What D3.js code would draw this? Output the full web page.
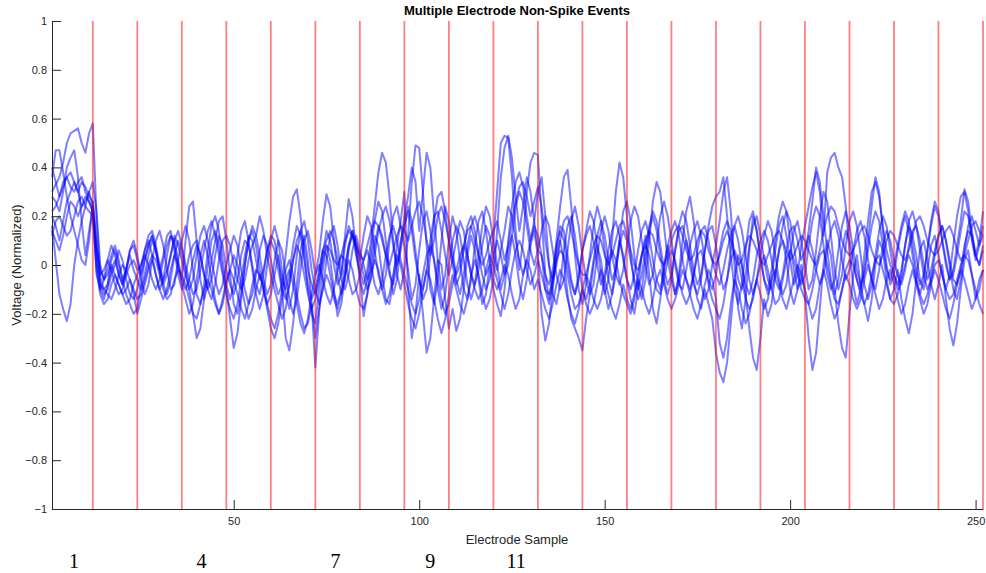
<!DOCTYPE html>
<html>
<head>
<meta charset="utf-8">
<script src="https://cdn.jsdelivr.net/npm/d3@7"></script>
<style>
  body { margin: 0; background: #fff; }
  svg { display: block; font-family: "Liberation Sans", Arial, sans-serif; }
</style>
</head>
<body>
<svg id="chart" width="986" height="573"></svg>
<script>
// electrode boundaries (every 12 samples)
var boundaries = [12, 24, 36, 48, 60, 72, 84, 96, 108, 120, 132, 144, 156, 168, 180, 192, 204, 216, 228, 240, 252];
var xTicks = [50, 100, 150, 200, 250];
var yTicks = [-1, -0.8, -0.6, -0.4, -0.2, 0, 0.2, 0.4, 0.6, 0.8, 1];
var bottomLabels = ["1", "4", "7", "9", "11"];
var bottomLabelX = [6.9, 41.3, 77.4, 103, 126.1]; // in sample units

// non-spike events, one row of 12 per electrode
var event1 = [
  .30,.33,.36,.42,.50,.54,.55,.56,.50,.46,.54,.58,
  .20,-.05,-.10,-.08,-.02,.02,-.04,-.08,-.02,.04,-.02,-.06,
  -.10,-.04,.04,.10,.06,-.02,-.08,-.04,.04,.12,.08,.02,
  -.04,-.10,-.06,.04,.12,.16,.10,.02,-.06,-.12,-.08,.00,
  .06,.12,.08,-.02,-.10,-.16,-.12,-.04,.06,.12,.08,.02,
  -.06,-.12,-.08,.04,.18,.28,.31,.20,.04,-.10,-.20,-.24,
  -.10,.04,.14,.10,.00,-.08,-.04,.08,.16,.12,.04,-.02,
  -.08,-.02,.10,.24,.38,.46,.42,.28,.10,-.04,-.10,-.02,
  .12,.34,.49,.48,.30,.08,-.10,-.16,-.06,.10,.24,.18,
  .06,-.06,-.12,-.04,.08,.16,.20,.14,.04,-.04,.00,.10,
  .30,.50,.53,.52,.36,.14,-.02,.10,.30,.42,.46,.45,
  .20,-.04,-.14,-.06,.10,.24,.36,.39,.24,.04,-.10,-.16,
  -.08,.04,.16,.24,.18,.06,-.06,-.12,-.04,.10,.22,.26,
  .18,.04,-.08,-.14,-.06,.10,.26,.34,.30,.16,.02,-.06,
  -.12,-.04,.10,.22,.28,.18,.04,-.08,-.14,-.10,.00,.08,
  .18,.30,.36,.22,.00,-.18,-.26,-.14,.06,.20,.14,.02,
  -.06,-.12,-.06,.06,.16,.20,.12,.02,-.08,-.04,.08,.16,
  .24,.32,.38,.30,.12,.38,.44,.46,.40,.36,.24,.06,
  -.08,-.16,-.10,.04,.18,.30,.34,.28,.16,.06,.00,-.04,
  -.08,-.02,.08,.16,.12,.04,-.06,-.10,-.02,.08,.12,.04,
  -.04,-.10,-.04,.08,.20,.28,.30,.22,.10,.02,.08,.16
];
var event2 = [
  .36,.47,.47,.38,.28,.20,.14,.08,.02,.00,.10,.26,
  .10,-.08,-.12,-.10,-.04,.00,.06,.02,-.06,-.12,-.14,-.10,
  -.02,.06,.10,.04,-.04,-.10,-.06,.04,.12,.10,.02,-.06,
  .10,.24,.26,.10,-.06,-.14,-.08,.02,.10,.18,.20,.10,
  -.04,-.16,-.20,-.12,.00,.10,.16,.12,.04,-.06,-.12,-.08,
  .02,.10,.06,-.04,-.14,-.20,-.14,-.02,.10,.14,.06,-.04,
  .04,.18,.29,.24,.10,-.04,-.12,-.06,.06,.14,.10,.02,
  .12,.20,.16,.06,-.04,-.10,-.04,.10,.20,.24,.16,.08,
  -.02,-.14,-.08,.06,.18,.22,.14,.02,-.10,-.18,-.12,.00,
  .10,.16,.12,.02,-.08,-.14,-.08,.04,.16,.24,.20,.10,
  .00,-.10,-.04,.10,.24,.34,.38,.32,.20,.10,.18,.30,
  .36,.20,.00,-.12,-.16,-.08,.06,.16,.20,.12,.00,-.10,
  -.14,-.08,.02,.12,.18,.12,.02,-.06,-.02,.08,.14,.10,
  .02,-.06,-.10,-.04,.06,.16,.22,.18,.08,-.02,-.08,-.04,
  .06,.16,.22,.18,.08,-.02,-.08,-.04,.06,.14,.16,.08,
  -.02,-.10,-.06,.06,.16,.20,.14,.04,-.06,-.12,-.06,.04,
  .12,.18,.14,.04,-.06,-.12,-.08,.04,.14,.18,.10,.00,
  -.10,-.06,.06,.20,.30,.26,.12,-.02,-.10,-.04,.08,.18,
  .22,.16,.04,-.08,-.14,-.08,.04,.14,.20,.16,.06,-.04,
  -.10,-.04,.08,.18,.22,.16,.06,-.04,-.10,-.06,.04,.12,
  .16,.10,.00,-.10,-.14,-.06,.06,.16,.20,.14,.08,.12
];
var event3 = [
  .16,.02,-.12,-.18,-.23,-.16,.00,.10,.18,.24,.30,.34,
  .22,.00,-.06,-.02,.04,.08,.02,-.06,-.12,-.16,-.20,-.18,
  -.08,.02,.08,.12,.06,-.02,-.08,-.12,-.06,.04,.10,.06,
  -.02,-.10,-.20,-.30,-.26,-.14,.00,.10,.14,.08,-.02,-.10,
  -.22,-.34,-.28,-.14,.00,.10,.14,.08,-.02,-.10,-.16,-.12,
  -.04,.04,-.10,-.30,-.35,-.24,-.08,.06,.12,.02,-.16,-.42,
  -.20,-.02,.08,.02,-.10,-.21,-.16,-.04,.08,.14,.06,-.04,
  -.21,-.12,.02,.12,.08,-.04,-.14,-.16,-.06,.08,.18,.30,
  -.10,-.30,-.20,-.04,-.20,-.36,-.30,-.14,.02,.00,-.14,-.26,
  -.18,-.27,-.22,-.10,.04,.12,.06,-.06,-.16,-.12,.00,-.10,
  -.16,-.21,-.10,.06,.12,.04,-.08,-.14,-.06,.08,.14,.04,
  -.20,-.31,-.24,-.10,.04,.10,.02,-.12,-.22,-.26,-.30,-.35,
  -.22,-.12,.00,.08,.02,-.10,-.18,-.12,.00,.10,.04,-.06,
  -.14,-.20,-.10,.04,.12,-.04,-.18,-.24,-.14,.00,.08,-.02,
  -.12,-.06,.04,.10,.04,-.06,-.14,-.18,-.10,-.16,-.22,-.36,
  -.44,-.48,-.40,-.24,-.06,.04,.00,-.12,-.26,-.38,-.43,-.30,
  -.14,-.21,-.16,-.04,.06,.10,.02,-.10,-.16,-.10,.00,-.12,
  -.30,-.43,-.36,-.18,.00,.10,.04,-.10,-.24,-.34,-.38,-.20,
  -.04,.04,-.08,-.16,-.23,-.14,.00,.10,.06,-.06,-.14,-.10,
  -.02,-.14,-.22,-.28,-.20,-.06,.06,.10,.02,-.08,-.14,-.08,
  .00,-.14,-.26,-.33,-.24,-.10,.02,.06,-.04,-.14,-.10,-.02
];
var event4 = [
  .28,.26,.22,.30,.40,.44,.47,.36,.18,.04,.14,.24,
  .04,-.10,-.14,-.08,.02,.06,.00,-.06,-.02,.06,.10,.04,
  -.06,-.12,-.08,.02,.10,.14,.08,-.02,-.10,-.08,.02,.10,
  .16,.10,-.02,-.12,-.16,-.08,.06,.16,.20,.14,.02,-.08,
  -.14,-.08,.04,.14,.18,.10,-.02,-.12,-.18,-.12,.00,.10,
  .16,.10,-.02,-.12,-.18,-.10,.04,.14,.18,.10,-.02,-.10,
  -.16,-.10,.02,.12,.16,.08,-.04,.12,.27,.20,.06,-.06,
  -.12,-.06,.06,.18,.26,.22,.10,-.02,-.12,-.06,.08,.20,
  .28,.40,.34,.14,.30,.46,.40,.20,.02,-.10,-.04,.10,
  .20,.14,.02,-.10,-.14,-.06,.08,.18,.22,.14,.02,-.06,
  .14,.36,.48,.53,.44,.28,.14,.24,.36,.30,.18,.06,
  .04,-.10,-.16,-.08,.06,.16,.14,.04,-.06,-.12,-.06,.06,
  .14,.22,.18,.08,-.04,-.12,-.06,.10,.30,.42,.36,.20,
  .04,-.08,-.14,-.10,.02,.14,.20,.14,.04,-.06,-.12,-.06,
  .06,.14,.16,.10,.00,-.08,-.12,-.06,.06,.16,.24,.28,
  .30,.36,.20,.04,-.10,-.16,-.08,.06,.18,.22,.14,.04,
  -.06,-.10,-.02,.10,.20,.26,.22,.10,-.02,-.10,-.06,.04,
  .14,.26,.40,.34,.20,.06,-.06,-.12,-.06,.06,.14,.10,
  .02,-.06,-.10,-.02,.10,.24,.36,.30,.14,.00,-.08,-.04,
  .06,.14,.20,.14,.04,-.06,-.12,-.06,.06,.18,.26,.22,
  .10,.00,-.06,-.02,.08,.18,.31,.26,.14,.04,.10,.22
];
var event5 = [
  .22,.24,.28,.34,.36,.32,.30,.34,.36,.30,.26,.22,
  .06,-.04,-.02,.02,-.02,-.08,-.12,-.10,-.04,.00,.02,-.02,
  .00,.04,.00,-.06,-.10,-.06,.02,.08,.12,.08,.00,-.06,
  -.10,-.06,.02,.08,.04,-.04,-.10,-.14,-.08,.02,.10,.12,
  .08,.00,-.06,-.10,-.06,.02,.08,.12,.20,.14,.04,-.04,
  -.10,-.16,-.22,-.18,-.08,.02,.08,.04,-.04,-.12,-.18,-.14,
  -.06,.02,.08,.06,.02,.00,.04,.10,.14,.12,.08,.04,
  .02,.08,.14,.18,.16,.10,.04,.00,.06,.12,.16,.14,
  .10,.16,.22,.26,.20,.10,.04,.10,.20,.24,.18,.10,
  .02,-.04,.00,.08,.14,.16,.10,.04,.00,.04,.10,.14,
  .18,.10,.02,.08,.18,.26,.32,.34,.28,.20,.26,.32,
  .24,.10,.00,-.06,.00,.10,.18,.20,.14,.06,.00,-.04,
  -.04,.02,.08,.12,.10,.04,.00,.04,.10,.16,.18,.12,
  .06,.00,-.02,.04,.10,.14,.12,.06,.02,.00,.04,.10,
  .14,.16,.12,.06,.02,.04,.10,.14,.12,.06,.02,.00,
  .04,.10,.14,.10,.04,.00,.02,.08,.12,.10,.06,.02,
  .00,.04,.08,.12,.14,.10,.06,.02,.04,.08,.12,.10,
  .06,.02,.00,.06,.14,.20,.24,.22,.16,.10,.06,.04,
  .06,.10,.14,.16,.12,.06,.02,.00,.04,.10,.14,.12,
  .08,.04,.02,.06,.12,.18,.20,.16,.10,.06,.04,.06,
  .10,.14,.16,.12,.06,.02,.04,.10,.16,.18,.14,.12
];
var event6 = [
  .12,.18,.20,.16,.12,.14,.20,.26,.28,.24,.22,.20,
  .00,-.08,-.10,-.12,-.14,-.10,-.04,.00,-.02,-.06,-.10,-.14,
  -.12,-.06,.00,.04,.02,-.04,-.10,-.14,-.12,-.06,-.02,-.04,
  -.08,-.14,-.20,-.22,-.16,-.10,-.06,-.10,-.16,-.20,-.14,-.06,
  -.02,-.06,-.12,-.18,-.22,-.16,-.08,-.02,-.04,-.10,-.18,-.26,
  -.30,-.24,-.14,-.06,-.02,-.08,-.16,-.24,-.28,-.22,-.12,-.04,
  .00,-.06,-.12,-.16,-.10,-.02,.04,.02,-.06,-.12,-.10,-.04,
  .02,.06,.00,-.08,-.12,-.06,.04,.12,.16,.10,.02,-.04,
  -.10,-.16,-.20,-.14,-.04,.04,.08,.02,-.06,-.14,-.20,-.16,
  -.08,-.02,.04,.08,.04,-.04,-.10,-.14,-.10,-.02,.04,.00,
  -.06,-.12,-.18,-.12,-.02,.06,.10,.06,-.02,-.08,-.04,.02,
  -.04,-.10,-.12,-.06,.02,.06,.04,-.04,-.12,-.18,-.16,-.10,
  -.04,-.08,-.14,-.18,-.14,-.06,.02,.06,.02,-.06,-.12,-.16,
  -.20,-.14,-.04,.04,.08,.04,-.04,-.10,-.12,-.06,.02,.06,
  .02,-.06,-.12,-.16,-.12,-.04,.04,.06,.00,-.08,-.14,-.18,
  -.22,-.16,-.06,.02,.06,.02,-.06,-.14,-.18,-.14,-.06,.00,
  .04,-.02,-.10,-.16,-.14,-.06,.02,.06,.02,-.04,-.10,-.14,
  -.16,-.10,-.02,.04,.06,.00,-.08,-.14,-.16,-.10,-.02,.02,
  .00,-.06,-.12,-.16,-.12,-.04,.02,.04,-.02,-.08,-.14,-.16,
  -.12,-.06,.00,.04,.00,-.06,-.12,-.16,-.12,-.06,.00,.02,
  -.04,-.10,-.14,-.12,-.06,.00,.04,.02,-.04,-.10,-.16,-.20
];
var event7 = [
  .20,.16,.10,.18,.26,.30,.34,.30,.24,.26,.30,.24,
  -.04,-.10,-.06,.02,.08,.04,-.04,-.08,-.02,.06,.08,.02,
  -.04,.02,.08,.12,.06,-.02,.04,.12,.14,.06,-.04,-.10,
  -.04,.04,.08,.10,.04,-.04,-.10,-.06,.04,.12,.08,-.02,
  -.08,-.12,-.06,.04,.10,.08,.00,-.08,-.12,-.04,.06,.10,
  .06,-.02,-.10,-.14,-.08,.02,.10,.14,.08,-.02,-.08,-.12,
  -.04,.06,.10,.14,.10,.02,-.06,-.10,-.04,.06,.12,.06,
  .00,-.06,-.02,.08,.16,.12,.04,-.04,-.08,.00,.10,.16,
  .22,.14,.02,-.06,-.10,-.02,.10,.20,.22,.14,.04,-.04,
  .02,.10,.18,.14,.04,-.04,-.08,-.02,.08,.16,.12,.04,
  -.02,.06,.14,.24,.20,.10,.02,-.04,.02,.10,.16,.12,
  .04,-.04,-.08,-.02,.08,.14,.10,.00,-.08,-.12,-.04,.06,
  .12,.16,.10,.00,-.08,-.04,.06,.14,.18,.12,.02,-.06,
  -.10,-.04,.06,.14,.18,.12,.02,-.06,-.10,-.02,.08,.14,
  .18,.12,.02,-.06,-.10,-.04,.06,.14,.16,.10,.02,-.04,
  -.08,-.02,.06,.12,.16,.10,.00,-.08,-.12,-.06,.04,.10,
  .14,.10,.02,-.06,-.10,-.04,.06,.14,.16,.10,.02,.06,
  .12,.06,-.02,-.08,-.04,.06,.14,.18,.12,.02,-.06,-.02,
  .06,.14,.18,.12,.02,-.06,-.10,-.02,.08,.14,.10,.02,
  -.04,-.08,-.02,.08,.14,.16,.10,.00,-.06,-.02,.06,.12,
  .16,.10,.02,-.06,-.08,-.02,.08,.14,.12,.04,.00,.08
];
var event8 = [
  .40,.34,.28,.32,.36,.38,.34,.30,.34,.32,.28,.26,
  .08,-.02,-.06,-.04,.00,-.04,-.08,-.12,-.16,-.14,-.08,-.04,
  .00,.06,.12,.14,.08,.00,-.06,-.02,.04,.10,.14,.08,
  .00,-.06,-.12,-.10,-.02,.06,.14,.18,.12,.04,-.04,-.12,
  -.18,-.22,-.16,-.06,.04,.12,.10,.02,-.06,-.02,.06,.12,
  .10,.02,-.06,-.10,-.04,.08,.16,.12,.02,-.08,-.14,-.10,
  -.02,.06,.04,-.04,-.12,-.16,-.10,.00,.08,.12,.08,.02,
  -.04,-.10,-.06,.04,.14,.20,.24,.18,.08,.00,.06,.16,
  .24,.18,.06,-.06,-.14,-.10,.04,.18,.28,.30,.22,.10,
  .00,-.08,-.04,.06,.16,.20,.14,.04,-.04,-.10,-.06,.04,
  .10,.04,-.04,.00,.12,.24,.30,.26,.16,.06,.00,.06,
  .14,.20,.16,.06,-.04,-.10,-.06,.06,.18,.24,.16,.04,
  -.06,-.12,-.08,.04,.14,.20,.14,.04,-.04,-.08,-.02,.08,
  .18,.24,.20,.10,.00,-.08,-.04,.08,.20,.26,.20,.10,
  .00,-.08,-.10,-.02,.08,.14,.18,.12,.02,-.06,-.10,-.04,
  .06,.14,.18,.14,.04,-.06,-.10,-.04,.08,.16,.20,.12,
  .02,-.06,-.10,-.04,.06,.16,.22,.18,.08,-.02,-.08,-.04,
  .08,.18,.24,.20,.08,-.04,-.10,-.06,.06,.16,.22,.16,
  .06,-.02,-.08,-.04,.06,.16,.22,.18,.08,-.02,-.06,.00,
  .08,.16,.22,.18,.08,-.02,-.08,-.04,.06,.16,.24,.20,
  .10,.02,-.06,-.04,.04,.14,.22,.20,.12,.04,.00,.06
];
var event9 = [
  .14,.10,.06,.12,.20,.26,.24,.20,.24,.28,.26,.22,
  -.02,-.12,-.16,-.14,-.08,-.04,-.08,-.12,-.10,-.06,-.12,-.20,
  -.14,-.08,-.02,.02,-.04,-.10,-.14,-.10,-.02,.04,.00,-.08,
  -.14,-.20,-.16,-.06,.04,.10,.04,-.06,-.14,-.20,-.16,-.08,
  -.02,.04,.00,-.08,-.16,-.22,-.18,-.10,-.04,-.08,-.16,-.22,
  -.26,-.20,-.10,-.02,.02,-.04,-.12,-.20,-.26,-.24,-.16,-.30,
  -.18,-.10,-.04,-.08,-.14,-.18,-.12,-.04,.02,-.02,-.10,-.16,
  -.18,-.12,-.04,.02,-.02,-.10,-.16,-.12,-.04,.04,.00,-.08,
  -.16,-.22,-.26,-.20,-.10,-.02,-.06,-.14,-.22,-.28,-.22,-.12,
  -.04,-.10,-.16,-.20,-.14,-.04,.02,-.04,-.12,-.18,-.14,-.06,
  -.10,-.06,.00,-.04,-.12,-.18,-.14,-.04,.02,-.02,-.10,-.06,
  -.12,-.18,-.22,-.16,-.08,-.02,-.06,-.14,-.20,-.24,-.18,-.10,
  -.16,-.20,-.16,-.08,-.02,-.06,-.12,-.18,-.22,-.16,-.08,-.14,
  -.18,-.12,-.06,-.10,-.16,-.20,-.14,-.06,-.02,-.08,-.14,-.18,
  -.14,-.08,-.02,-.06,-.12,-.18,-.22,-.16,-.08,-.02,-.06,-.14,
  -.32,-.38,-.30,-.16,-.06,-.10,-.18,-.24,-.20,-.12,-.06,-.12,
  -.18,-.14,-.06,-.02,-.08,-.14,-.18,-.12,-.06,.00,-.04,-.10,
  -.16,-.22,-.18,-.08,-.02,-.08,-.16,-.22,-.18,-.10,-.04,-.08,
  -.14,-.18,-.14,-.06,.00,-.06,-.12,-.18,-.14,-.06,-.02,-.08,
  -.14,-.20,-.16,-.08,-.02,-.08,-.14,-.20,-.16,-.08,-.02,-.06,
  -.12,-.18,-.22,-.16,-.08,-.02,-.06,-.12,-.18,-.14,-.06,-.02
];
var events = [event1, event2, event3, event4, event5, event6, event7, event8, event9];

var svg = d3.select("#chart");
var margin = { left: 52, right: 3, top: 21, bottom: 64 };
var width = 986, height = 573;

var x = d3.scaleLinear().domain([1, 252]).range([margin.left, width - margin.right]);
var y = d3.scaleLinear().domain([-1, 1]).range([height - margin.bottom, margin.top]);

var axisColor = "#262626";

// traces
var line = d3.line()
  .x(function(d, i) { return x(i + 1); })
  .y(function(d) { return y(d); });

svg.append("g")
  .selectAll("path")
  .data(events)
  .join("path")
  .attr("d", line)
  .attr("fill", "none")
  .attr("stroke", "rgb(0,0,255)")
  .attr("stroke-opacity", 0.5)
  .attr("stroke-width", 2)
  .attr("stroke-linejoin", "round");

// electrode boundaries
svg.append("g")
  .selectAll("line")
  .data(boundaries)
  .join("line")
  .attr("x1", function(d) { return x(d); })
  .attr("x2", function(d) { return x(d); })
  .attr("y1", y(1))
  .attr("y2", y(-1))
  .attr("stroke", "rgb(255,0,0)")
  .attr("stroke-opacity", 0.5)
  .attr("stroke-width", 1.8);

// axes (ticks point inward)
var xAxis = d3.axisBottom(x).tickValues(xTicks).tickSizeInner(-9).tickSizeOuter(0).tickPadding(8);
var yAxis = d3.axisLeft(y).tickValues(yTicks).tickSizeInner(-9).tickSizeOuter(0).tickPadding(6)
  .tickFormat(function(d) { return d3.format("")(+d.toFixed(1)); });

var gx = svg.append("g")
  .attr("transform", "translate(0," + y(-1) + ")")
  .call(xAxis);
var gy = svg.append("g")
  .attr("transform", "translate(" + x(1) + ",0)")
  .call(yAxis);

[gx, gy].forEach(function(g) {
  g.select(".domain").attr("stroke", axisColor);
  g.selectAll(".tick line").attr("stroke", axisColor);
  g.selectAll(".tick text")
    .attr("fill", axisColor)
    .attr("font-size", 11)
    .attr("font-family", "'Liberation Sans', Arial, sans-serif");
});
gy.selectAll(".tick text").attr("x", -5);

// title and labels
svg.append("text")
  .attr("x", 517)
  .attr("y", 15)
  .attr("text-anchor", "middle")
  .attr("font-size", 13)
  .attr("font-weight", "bold")
  .attr("fill", "#000")
  .text("Multiple Electrode Non-Spike Events");

svg.append("text")
  .attr("x", 517)
  .attr("y", 544)
  .attr("text-anchor", "middle")
  .attr("font-size", 13)
  .attr("fill", axisColor)
  .text("Electrode Sample");

svg.append("text")
  .attr("transform", "translate(21," + y(0) + ") rotate(-90)")
  .attr("text-anchor", "middle")
  .attr("font-size", 13)
  .attr("fill", axisColor)
  .text("Voltage (Normalized)");

// electrode numbers under the plot
svg.append("g")
  .selectAll("text")
  .data(bottomLabels)
  .join("text")
  .attr("x", function(d, i) { return x(bottomLabelX[i]); })
  .attr("y", 568)
  .attr("text-anchor", "middle")
  .attr("font-family", "'Liberation Serif', 'Times New Roman', serif")
  .attr("font-size", 20)
  .attr("fill", "#000")
  .text(function(d) { return d; });
</script>
</body>
</html>
